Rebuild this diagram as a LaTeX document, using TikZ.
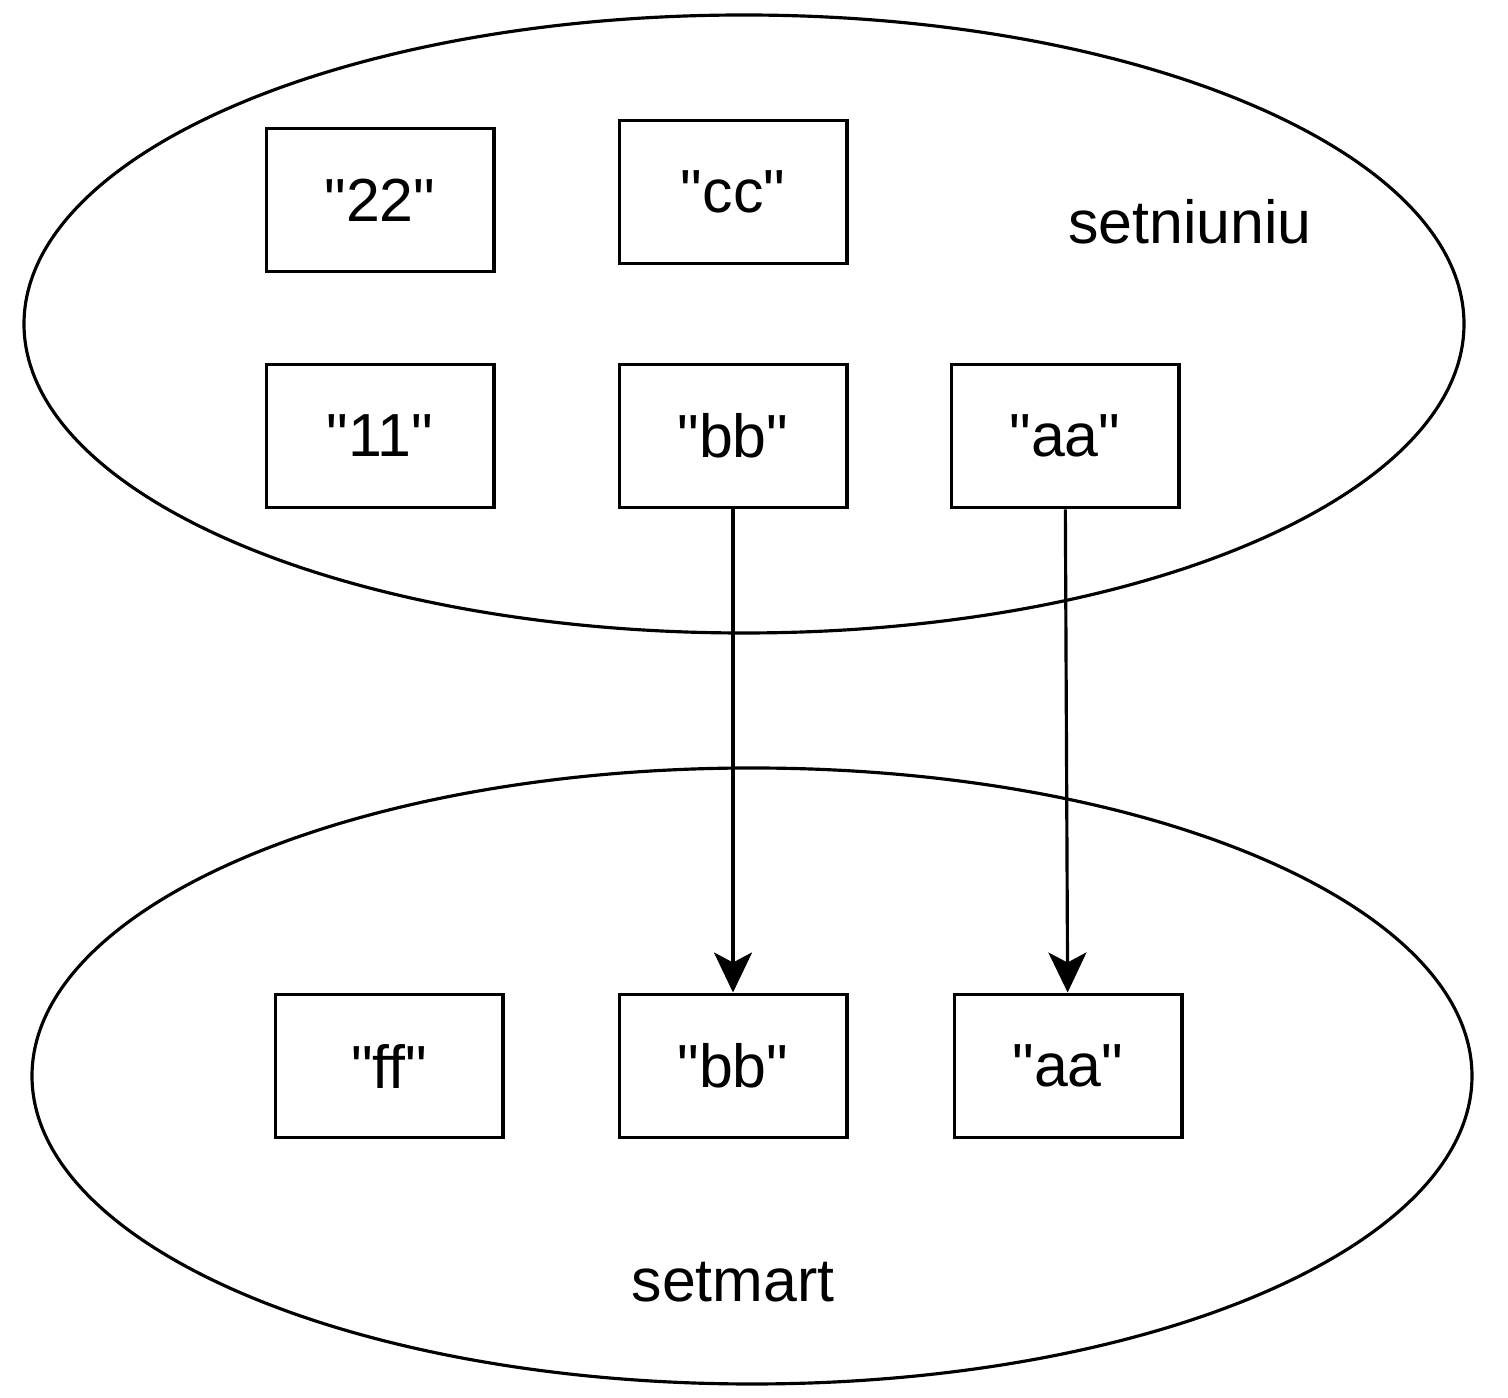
\documentclass[tikz,border=0pt]{standalone}
\usepackage{fontspec}
\setmainfont{Liberation Sans}[Ligatures=TeXOff]
\usetikzlibrary{arrows.meta}

\begin{document}
\begin{tikzpicture}[x=0.01cm, y=-0.01cm,
      elem/.style={draw=black, line width=1.1pt, minimum width=2.27cm, minimum height=1.43cm, inner sep=0pt, font=\fontsize{17.3}{21}\selectfont},
      setname/.style={font=\fontsize{17.3}{21}\selectfont},
      link/.style={line width=0.9pt, -{Stealth[length=0.4cm, width=0.38cm, inset=0.1cm]}}]
      \useasboundingbox (0,0) rectangle (1508,1398);

      % the two sets
      \draw[line width=0.9pt, name=niu] (744,324) ellipse [x radius=720, y radius=309];
      \draw[line width=0.9pt, name=mart] (752,1076) ellipse [x radius=720, y radius=308];
      \node[setname, name=lniu] at (1190,222) {setniuniu};
      \node[setname, name=lmart] at (733,1282) {setmart};

      % elements of setniuniu
      \node[elem, name=a22] at (380,200) {"22"};
      \node[elem, name=acc] at (733,192) {"cc"};
      \node[elem, name=a11] at (380,436) {"11"};
      \node[elem, name=abb] at (733,436) {"bb"};
      \node[elem, name=aaa] at (1065,436) {"aa"};

      % elements of setmart
      \node[elem, name=bff] at (389,1066) {"ff"};
      \node[elem, name=bbb] at (733,1066) {"bb"};
      \node[elem, name=baa] at (1068,1066) {"aa"};

      \path[link]
         (abb) edge (bbb)
         (aaa) edge (baa);
   \end{tikzpicture}
\end{document}
